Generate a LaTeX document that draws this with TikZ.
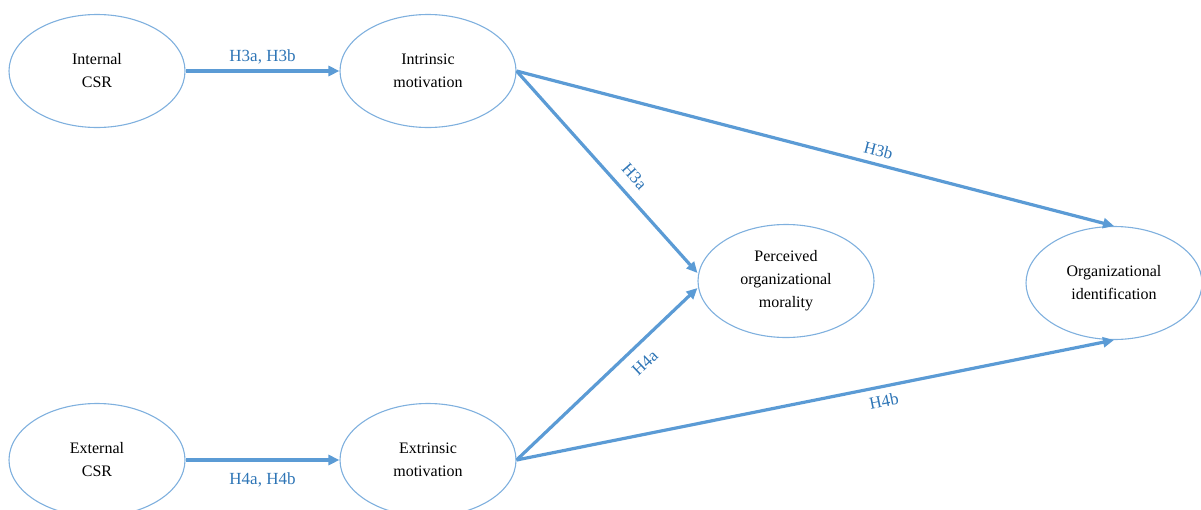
\documentclass[tikz,border=0pt]{standalone}
\usepackage{fontspec}
\setmainfont{Liberation Serif}
\usetikzlibrary{shapes.geometric,arrows.meta}
\definecolor{linkblue}{HTML}{5B9BD5}
\definecolor{labelblue}{HTML}{2E75B6}
\definecolor{rimblue}{HTML}{7FB0DE}
\tikzset{
  construct/.style={ellipse, draw=rimblue, line width=1.1pt, minimum width=176pt,
    minimum height=113pt, inner sep=0pt, align=center,
    font=\fontsize{16}{23}\selectfont, text=black},
  path link/.style={draw=linkblue, line width=3.2pt,
    -{Triangle[length=11pt,width=10pt]}},
  hyp/.style={text=labelblue, font=\fontsize{17}{20}\selectfont, inner sep=3pt}
}
\begin{document}
\begin{tikzpicture}[x=1pt,y=-1pt]
\useasboundingbox (0,0) rectangle (1201,509);
% constructs
\node[construct] (icsr) at (97,71)   {Internal\\CSR};
\node[construct] (intr) at (428,71)  {Intrinsic\\motivation};
\node[construct] (ecsr) at (97,460)  {External\\CSR};
\node[construct] (extr) at (428,460) {Extrinsic\\motivation};
\node[construct] (pom)  at (786,281) {Perceived\\organizational\\morality};
\node[construct] (oid)  at (1114,283) {Organizational\\identification};
% hypothesised paths
\draw[path link] (icsr.east) -- node[hyp, above=2pt] {H3a, H3b} (intr.west);
\draw[path link] (ecsr.east) -- node[hyp, below=8pt] {H4a, H4b} (extr.west);
\draw[path link] (intr.east) -- node[hyp, pos=0.58, sloped, above=7pt] {H3a} ([yshift=8pt]pom.west);
\draw[path link] (extr.east) -- node[hyp, pos=0.64, sloped, below=8pt] {H4a} ([yshift=-7pt]pom.west);
\draw[path link] (intr.east) -- node[hyp, pos=0.6, sloped, above=3pt] {H3b} (oid.north);
\draw[path link] (extr.east) -- node[hyp, pos=0.61, sloped, below=4pt] {H4b} (oid.south);
\end{tikzpicture}
\end{document}
